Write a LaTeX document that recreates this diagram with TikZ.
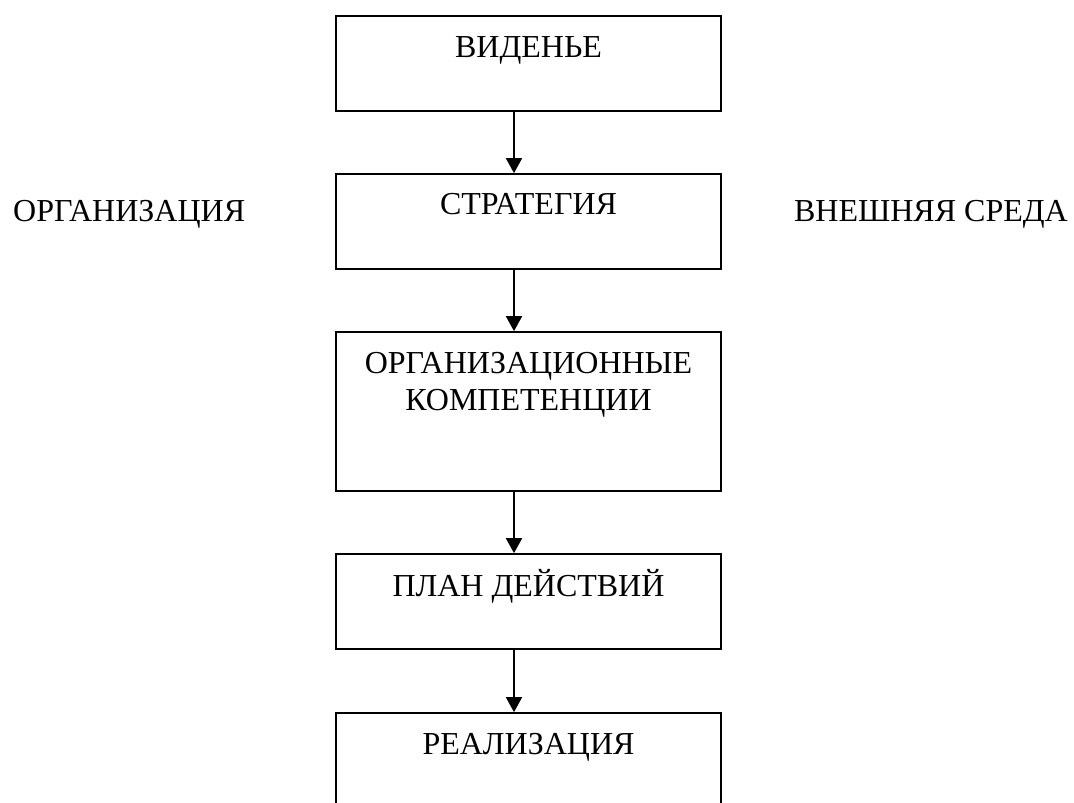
\documentclass[tikz,border=0pt]{standalone}
\usepackage{fontspec}
\setmainfont{Liberation Serif}
\usetikzlibrary{arrows.meta}
\begin{document}
\begin{tikzpicture}[x=1pt,y=-1pt,
  stage/.style={draw=black, line width=1.7pt, rectangle, minimum width=385pt, inner sep=0pt},
  label/.style={anchor=base, inner sep=0pt, font=\fontsize{32}{37}\selectfont, align=center},
  flow/.style={line width=1.7pt, -{Triangle[width=16pt,length=15pt]}}]
  \useasboundingbox (0,0) rectangle (1074,803);

  % stage boxes
  \node[stage, minimum height=95pt]  (vision)   at (528.5,63.5)  {};
  \node[stage, minimum height=95pt]  (strategy) at (528.5,221.5) {};
  \node[stage, minimum height=159pt] (comp)     at (528.5,411.5) {};
  \node[stage, minimum height=95pt]  (plan)     at (528.5,601.5) {};
  \node[stage, minimum height=187pt] (impl)     at (528.5,806.5) {};

  % stage captions (base of a two-line caption is its last line)
  \node[label] (tvision)   at (528.5,57)  {ВИДЕНЬЕ};
  \node[label] (tstrategy) at (528.5,214) {СТРАТЕГИЯ};
  \node[label] (tcomp)     at (528.5,410) {ОРГАНИЗАЦИОННЫЕ\\КОМПЕТЕНЦИИ};
  \node[label] (tplan)     at (528.5,596) {ПЛАН ДЕЙСТВИЙ};
  \node[label] (timpl)     at (528.5,754) {РЕАЛИЗАЦИЯ};

  % side captions
  \node[label, anchor=base west] (org) at (13,221)   {ОРГАНИЗАЦИЯ};
  \node[label, anchor=base east] (env) at (1068,221) {ВНЕШНЯЯ СРЕДА};

  % connectors along a common vertical axis
  \coordinate (axis) at (514,0);
  \draw[flow] (vision.south -| axis)   -- (strategy.north -| axis);
  \draw[flow] (strategy.south -| axis) -- (comp.north -| axis);
  \draw[flow] (comp.south -| axis)     -- (plan.north -| axis);
  \draw[flow] (plan.south -| axis)     -- (impl.north -| axis);
\end{tikzpicture}
\end{document}
